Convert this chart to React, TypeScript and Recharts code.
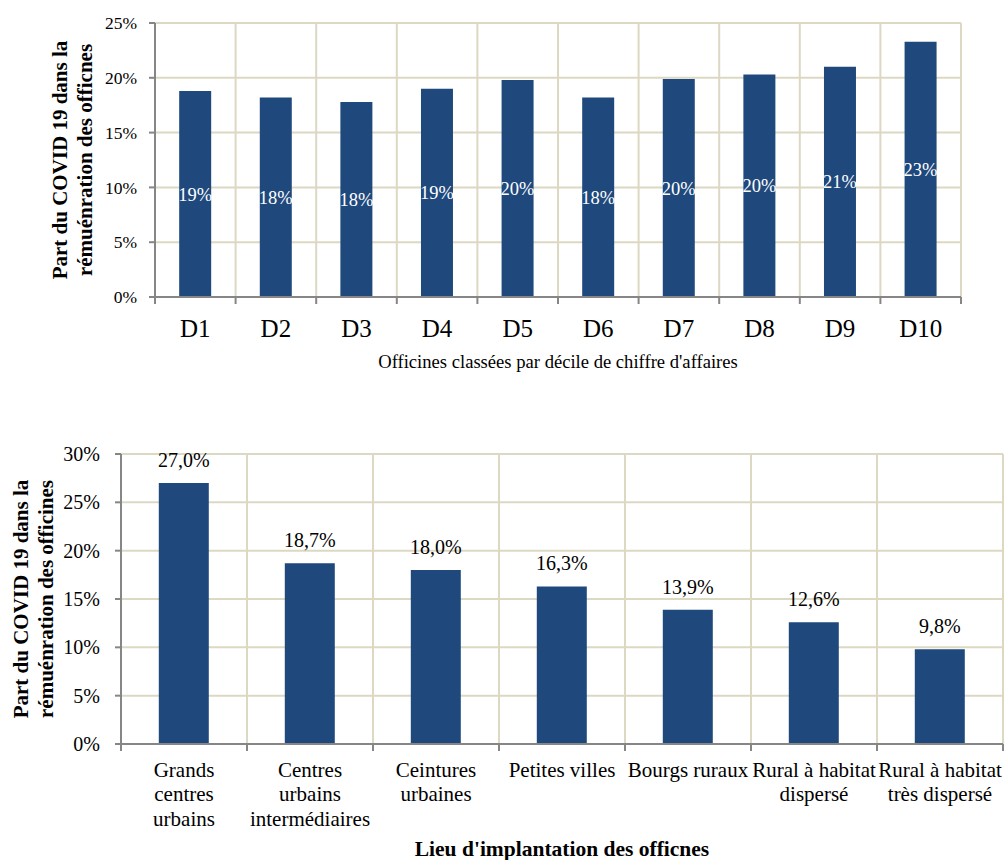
import React from "react";
import { BarChart, Bar, XAxis, YAxis, CartesianGrid, LabelList } from "recharts";

// ---------- Data ----------
const decileCategories = ["D1", "D2", "D3", "D4", "D5", "D6", "D7", "D8", "D9", "D10"];
const decileValues = [18.8, 18.2, 17.8, 19.0, 19.8, 18.2, 19.9, 20.3, 21.0, 23.3];
const decileTicks = [0, 5, 10, 15, 20, 25];

const locationCategories = [
  "Grands centres urbains",
  "Centres urbains intermédiaires",
  "Ceintures urbaines",
  "Petites villes",
  "Bourgs ruraux",
  "Rural à habitat dispersé",
  "Rural à habitat très dispersé",
];
const locationTickLines = [
  ["Grands", "centres", "urbains"],
  ["Centres", "urbains", "intermédiaires"],
  ["Ceintures", "urbaines"],
  ["Petites villes"],
  ["Bourgs ruraux"],
  ["Rural à habitat", "dispersé"],
  ["Rural à habitat", "très dispersé"],
];
const locationValues = [27.0, 18.7, 18.0, 16.3, 13.9, 12.6, 9.8];
const locationTicks = [0, 5, 10, 15, 20, 25, 30];

const topYTitle = ["Part du COVID 19 dans la", "rémuénration des officnes"];
const topXTitle = "Officines classées par décile de chiffre d'affaires";
const bottomYTitle = ["Part du COVID 19 dans la", "rémuénration des officines"];
const bottomXTitle = "Lieu d'implantation des officnes";

const decileData = decileCategories.map((c, i) => ({ name: c, value: decileValues[i] }));
const locationData = locationCategories.map((c, i) => ({
  name: c,
  lines: locationTickLines[i],
  value: locationValues[i],
}));

// ---------- Styles ----------
const FONT = '"Liberation Serif", "Times New Roman", serif';
const BAR = "#1f497d";
const GRID = "#dcd8c2";
const AXIS = "#868686";

// ---------- Layout ----------
const W = 1005;
const T_H = 380;
const T_LEFT = 155;
const T_RIGHT = 961;
const T_TOP = 23;
const T_BOTTOM = 297;

const B_H = 460;
const B_OFFSET = 400;
const B_LEFT = 121;
const B_RIGHT = 1003;
const B_TOP = 54;
const B_BOTTOM = 344;

const boundaries = (left: number, right: number, n: number) =>
  Array.from({ length: n + 1 }, (_, i) => left + ((right - left) * i) / n);

const pct = (v: any) => `${v}%`;

const BoundaryTick = (props: any) => {
  const { x, payload, index, visibleTicksCount, axisY, lines, fontSize, firstDy, lineGap, bandHalf } = props;
  const half = payload && payload.offset ? payload.offset : bandHalf;
  const texts: string[] = lines ? lines[index] : [payload.value];
  return (
    <g>
      <line x1={x - half} y1={axisY} x2={x - half} y2={axisY + 7} stroke={AXIS} strokeWidth={2} />
      {index === visibleTicksCount - 1 && (
        <line x1={x + half} y1={axisY} x2={x + half} y2={axisY + 7} stroke={AXIS} strokeWidth={2} />
      )}
      <text x={x} y={axisY + firstDy} textAnchor="middle" fontFamily={FONT} fontSize={fontSize} fill="#000">
        {texts.map((t, i) => (
          <tspan key={i} x={x} dy={i === 0 ? 0 : lineGap}>
            {t}
          </tspan>
        ))}
      </text>
    </g>
  );
};

const RotTitle = ({ cx, cy, lines, fontSize, gap }: any) => (
  <text
    transform={`rotate(-90 ${cx} ${cy})`}
    x={cx}
    y={cy}
    textAnchor="middle"
    fontFamily={FONT}
    fontWeight="bold"
    fontSize={fontSize}
    fill="#000"
  >
    {lines.map((l: string, i: number) => (
      <tspan key={i} x={cx} dy={i === 0 ? 0 : gap}>
        {l}
      </tspan>
    ))}
  </text>
);

export default function App() {
  return (
    <div style={{ position: "absolute", left: 0, top: 0, width: W, height: 860, background: "#fff" }}>
      <div style={{ position: "absolute", left: 0, top: 0 }}>
        <BarChart
          width={W}
          height={T_H}
          data={decileData}
          margin={{ top: T_TOP, right: W - T_RIGHT, left: 0, bottom: 0 }}
          barCategoryGap="30%"
        >
          <CartesianGrid
            stroke={GRID}
            strokeWidth={2}
            verticalPoints={boundaries(T_LEFT, T_RIGHT, decileCategories.length)}
          />
          <XAxis
            dataKey="name"
            height={T_H - T_BOTTOM}
            stroke={AXIS}
            strokeWidth={2}
            tickLine={false}
            tickSize={0}
            tickMargin={0}
            interval={0}
            tick={
              <BoundaryTick
                axisY={T_BOTTOM}
                fontSize={25}
                firstDy={40}
                lineGap={24}
                bandHalf={(T_RIGHT - T_LEFT) / decileCategories.length / 2}
              />
            }
            label={{
              content: () => (
                <text
                  x={(T_LEFT + T_RIGHT) / 2}
                  y={368}
                  textAnchor="middle"
                  fontFamily={FONT}
                  fontSize={18.6}
                  fill="#000"
                >
                  {topXTitle}
                </text>
              ),
            }}
          />
          <YAxis
            width={T_LEFT}
            domain={[0, 25]}
            ticks={decileTicks}
            tickFormatter={pct}
            stroke={AXIS}
            strokeWidth={2}
            tickSize={6}
            tickMargin={12}
            tick={{ fontFamily: FONT, fontSize: 17.5, fill: "#000" }}
            label={{
              content: () => (
                <RotTitle cx={67} cy={(T_TOP + T_BOTTOM) / 2} lines={topYTitle} fontSize={21} gap={25} />
              ),
            }}
          />
          <Bar dataKey="value" fill={BAR} isAnimationActive={false}>
            <LabelList
              dataKey="value"
              position="center"
              fill="#fff"
              fontFamily={FONT}
              fontSize={18.5}
              formatter={(v: any) => `${Math.round(Number(v))}%`}
            />
          </Bar>
        </BarChart>
      </div>

      <div style={{ position: "absolute", left: 0, top: B_OFFSET }}>
        <BarChart
          width={W}
          height={B_H}
          data={locationData}
          margin={{ top: B_TOP, right: W - B_RIGHT, left: 0, bottom: 0 }}
          barCategoryGap="30%"
        >
          <CartesianGrid
            stroke={GRID}
            strokeWidth={2}
            verticalPoints={boundaries(B_LEFT, B_RIGHT, locationCategories.length)}
          />
          <XAxis
            dataKey="name"
            height={B_H - B_BOTTOM}
            stroke={AXIS}
            strokeWidth={2}
            tickLine={false}
            tickSize={0}
            tickMargin={0}
            interval={0}
            tick={
              <BoundaryTick
                axisY={B_BOTTOM}
                lines={locationTickLines}
                fontSize={21}
                firstDy={33}
                lineGap={24.3}
                bandHalf={(B_RIGHT - B_LEFT) / locationCategories.length / 2}
              />
            }
            label={{
              content: () => (
                <text
                  x={(B_LEFT + B_RIGHT) / 2}
                  y={456}
                  textAnchor="middle"
                  fontFamily={FONT}
                  fontWeight="bold"
                  fontSize={21.5}
                  fill="#000"
                >
                  {bottomXTitle}
                </text>
              ),
            }}
          />
          <YAxis
            width={B_LEFT}
            domain={[0, 30]}
            ticks={locationTicks}
            tickFormatter={pct}
            stroke={AXIS}
            strokeWidth={2}
            tickSize={6}
            tickMargin={15}
            tick={{ fontFamily: FONT, fontSize: 20, fill: "#000" }}
            label={{
              content: () => (
                <RotTitle cx={28} cy={(B_TOP + B_BOTTOM) / 2} lines={bottomYTitle} fontSize={21} gap={25} />
              ),
            }}
          />
          <Bar dataKey="value" fill={BAR} isAnimationActive={false}>
            <LabelList
              dataKey="value"
              position="top"
              offset={16}
              fill="#000"
              fontFamily={FONT}
              fontSize={20}
              formatter={(v: any) => `${Number(v).toFixed(1).replace(".", ",")}%`}
            />
          </Bar>
        </BarChart>
      </div>
    </div>
  );
}
